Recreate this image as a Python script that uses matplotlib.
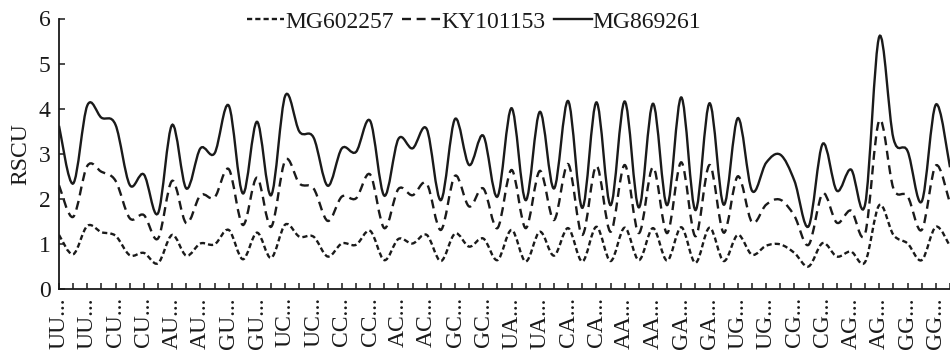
import matplotlib
matplotlib.use("Agg")
import matplotlib.pyplot as plt
import numpy as np
from matplotlib.path import Path
from matplotlib.patches import PathPatch
from matplotlib.lines import Line2D

codons = [
    "UUU", "UUC", "UUA", "UUG", "CUU", "CUC", "CUA", "CUG",
    "AUU", "AUC", "AUA", "AUG", "GUU", "GUC", "GUA", "GUG",
    "UCU", "UCC", "UCA", "UCG", "CCU", "CCC", "CCA", "CCG",
    "ACU", "ACC", "ACA", "ACG", "GCU", "GCC", "GCA", "GCG",
    "UAU", "UAC", "UAA", "UAG", "CAU", "CAC", "CAA", "CAG",
    "AAU", "AAC", "AAA", "AAG", "GAU", "GAC", "GAA", "GAG",
    "UGU", "UGC", "UGA", "UGG", "CGU", "CGC", "CGA", "CGG",
    "AGU", "AGC", "AGA", "AGG", "GGU", "GGC", "GGA", "GGG",
]

# RSCU per strain (plotted as a stacked line chart)
mg602257 = [
    1.20, 0.77, 1.40, 1.26, 1.18, 0.75, 0.80, 0.57,
    1.20, 0.74, 1.01, 0.99, 1.31, 0.66, 1.25, 0.69,
    1.43, 1.16, 1.16, 0.72, 1.01, 0.98, 1.29, 0.64,
    1.11, 1.01, 1.20, 0.62, 1.23, 0.94, 1.12, 0.64,
    1.31, 0.61, 1.27, 0.74, 1.35, 0.61, 1.38, 0.62,
    1.36, 0.64, 1.35, 0.63, 1.37, 0.58, 1.36, 0.62,
    1.20, 0.76, 0.96, 0.99, 0.80, 0.50, 1.02, 0.72,
    0.83, 0.60, 1.86, 1.20, 1.01, 0.64, 1.38, 0.95,
]
ky101153 = [
    1.10, 0.83, 1.33, 1.34, 1.22, 0.82, 0.84, 0.55,
    1.20, 0.72, 1.07, 1.04, 1.35, 0.76, 1.22, 0.69,
    1.43, 1.18, 1.07, 0.79, 1.04, 1.03, 1.25, 0.71,
    1.11, 1.07, 1.14, 0.69, 1.28, 0.89, 1.11, 0.71,
    1.33, 0.74, 1.35, 0.79, 1.42, 0.59, 1.35, 0.65,
    1.39, 0.60, 1.35, 0.61, 1.44, 0.59, 1.39, 0.63,
    1.30, 0.72, 0.91, 0.99, 0.82, 0.48, 1.10, 0.75,
    0.91, 0.63, 1.88, 1.03, 1.05, 0.67, 1.36, 0.95,
]
mg869261 = [
    1.32, 0.74, 1.34, 1.20, 1.24, 0.74, 0.90, 0.56,
    1.24, 0.77, 1.04, 0.98, 1.41, 0.70, 1.24, 0.70,
    1.43, 1.15, 1.13, 0.78, 1.07, 1.03, 1.19, 0.72,
    1.11, 1.04, 1.21, 0.66, 1.26, 0.92, 1.17, 0.70,
    1.37, 0.62, 1.31, 0.70, 1.40, 0.60, 1.41, 0.59,
    1.41, 0.57, 1.41, 0.62, 1.44, 0.58, 1.37, 0.62,
    1.29, 0.70, 0.93, 1.00, 0.78, 0.41, 1.10, 0.71,
    0.91, 0.65, 1.86, 1.11, 1.00, 0.63, 1.35, 0.80,
]
series_names = ["MG602257", "KY101153", "MG869261"]
line_styles = [(0, (2.2, 1.3)), (0, (3.8, 2.4)), "-"]


def smooth_path(x, y):
    # Excel-style smoothed line: cubic bezier through every point
    n = len(x)
    verts = [(x[0], y[0])]
    codes = [Path.MOVETO]
    for i in range(n - 1):
        a = max(i - 1, 0)
        d = min(i + 2, n - 1)
        c1 = (x[i] + (x[i + 1] - x[a]) / 6, y[i] + (y[i + 1] - y[a]) / 6)
        c2 = (x[i + 1] - (x[d] - x[i]) / 6, y[i + 1] - (y[d] - y[i]) / 6)
        verts += [c1, c2, (x[i + 1], y[i + 1])]
        codes += [Path.CURVE4] * 3
    return Path(verts, codes)


plt.rcParams["font.family"] = ["Liberation Serif", "DejaVu Serif"]
color = "#1a1a1a"
fs = 17

fig = plt.figure(figsize=(9.5, 3.51), dpi=100)
ax = fig.add_axes([59 / 950, 62 / 351, 891 / 950, 270.5 / 351])

x = np.arange(len(codons))
stacked = np.cumsum([mg602257, ky101153, mg869261], axis=0)
handles = []
for vals, name, ls in zip(stacked, series_names, line_styles):
    patch = PathPatch(smooth_path(x, vals), fill=False, edgecolor=color,
                      linewidth=1.7, linestyle=ls, capstyle="butt")
    ax.add_patch(patch)
    handles.append(Line2D([], [], color=color, linewidth=1.7, linestyle=ls))

ax.set_xlim(0, 62.75)
ax.set_ylim(0, 6)
ax.set_yticks(range(7))
ax.set_xticks(x)
ax.set_xticklabels([c[:2] + "..." if i % 2 == 0 else "" for i, c in enumerate(codons)],
                   rotation=90, va="top")
ax.tick_params(direction="in", length=4, width=1.1, labelsize=fs, colors=color, pad=6)
ax.set_ylabel("RSCU", fontsize=fs, color=color, labelpad=5)
for side in ["top", "right"]:
    ax.spines[side].set_visible(False)
for side in ["left", "bottom"]:
    ax.spines[side].set_linewidth(1.3)
    ax.spines[side].set_color(color)

fig.legend(handles, series_names, loc="center", bbox_to_anchor=(474 / 950, 1 - 22 / 351),
           ncol=3, frameon=False, fontsize=fs, handlelength=1.6, handletextpad=0.05,
           columnspacing=0.35, labelcolor=color)

fig.savefig("out.png", dpi=100)
